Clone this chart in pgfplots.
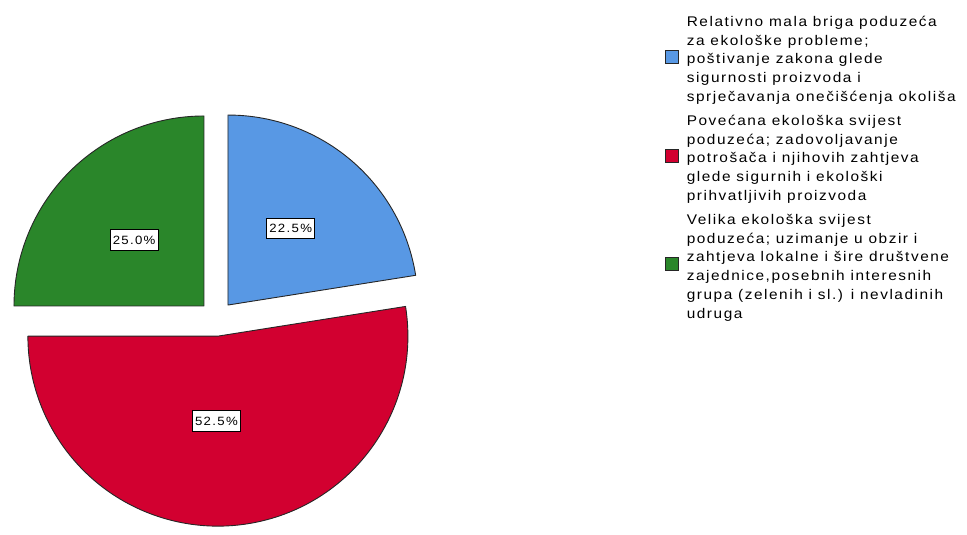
\documentclass[border=0pt]{standalone}
\usepackage{fontspec}
\setmainfont{Liberation Sans}[FakeStretch=1.1, LetterSpace=11]
\usepackage{pgfplots}
\usepackage{pgfplotstable}
\pgfplotsset{compat=1.18}

\definecolor{sliceblue}{RGB}{88,152,228}
\definecolor{slicered}{RGB}{210,0,48}
\definecolor{slicegreen}{RGB}{42,134,42}

% share in percent, label radius and label angle (relative to slice apex)
\pgfplotstableread{
pct  lr  la
22.5 99  50.7
52.5 85  -91
25.0 96  136.7
}\piedata

% start angle, end angle, colour, row
\newcommand\pieslice[4]{%
  \pgfmathsetmacro\midang{(#1+#2)/2}%
  \pgfmathsetmacro\ox{216.5+17.7*cos(\midang)}%
  \pgfmathsetmacro\oy{211.5+17.7*sin(\midang)}%
  \filldraw[fill=#3, draw=black!85, line width=0.9pt, line join=round]
    (axis cs:\ox,\oy) -- ++(#1:190pt) arc[start angle=#1, end angle=#2, radius=190pt] -- cycle;
  \pgfplotstablegetelem{#4}{lr}\of\piedata \let\labr\pgfplotsretval
  \pgfplotstablegetelem{#4}{la}\of\piedata \let\laba\pgfplotsretval
  \pgfplotstablegetelem{#4}{pct}\of\piedata \let\labp\pgfplotsretval
  \pgfmathsetmacro\lx{\ox+\labr*cos(\laba)}%
  \pgfmathsetmacro\ly{\oy+\labr*sin(\laba)}%
  \node[draw=black, fill=white, line width=0.8pt, inner xsep=2.5pt, inner ysep=6pt,
        font=\fontsize{12}{14}\selectfont]
    at (axis cs:\lx,\ly)
    {\pgfmathprintnumber[fixed,fixed zerofill,precision=1,assume math mode=true]{\labp}\%};
}

\begin{document}
\begin{tikzpicture}[font=\fontsize{14}{18.8}\selectfont]
\begin{axis}[
    x=1pt, y=1pt,
    xmin=0, xmax=967, ymin=0, ymax=530,
    hide axis, clip=false,
    legend cell align=left,
    legend image code/.code={
        \draw[#1, line width=0.8pt] (0pt,-3.3pt) rectangle (13pt,9.7pt);
        \path (21pt,0pt);
    },
    legend style={at={(axis cs:662,519)}, anchor=north west, draw=none, fill=none,
        font=\fontsize{14}{18.8}\selectfont, row sep=5pt,
        nodes={inner sep=0pt, text depth=}},
]
\path (rel axis cs:0,0) rectangle (rel axis cs:1,1);
\addlegendimage{fill=sliceblue, draw=black!85}
\addlegendentry{\begin{tabular}{@{}l@{}}Relativno mala briga poduzeća\\za ekološke probleme;\\poštivanje zakona glede\\sigurnosti proizvoda i\\sprječavanja onečišćenja okoliša\end{tabular}}
\addlegendimage{fill=slicered, draw=black!85}
\addlegendentry{\begin{tabular}{@{}l@{}}Povećana ekološka svijest\\poduzeća; zadovoljavanje\\potrošača i njihovih zahtjeva\\glede sigurnih i ekološki\\prihvatljivih proizvoda\end{tabular}}
\addlegendimage{fill=slicegreen, draw=black!85}
\addlegendentry{\begin{tabular}{@{}l@{}}Velika ekološka svijest\\poduzeća; uzimanje u obzir i\\zahtjeva lokalne i šire društvene\\zajednice,posebnih interesnih\\grupa (zelenih i sl.) i nevladinih\\udruga\end{tabular}}
\pgfplotsextra{
  \pgfplotstablegetelem{0}{pct}\of\piedata \pgfmathsetmacro\pA{\pgfplotsretval}
  \pgfplotstablegetelem{1}{pct}\of\piedata \pgfmathsetmacro\pB{\pgfplotsretval}
  \pgfplotstablegetelem{2}{pct}\of\piedata \pgfmathsetmacro\pC{\pgfplotsretval}
  \pgfmathsetmacro\aA{90}
  \pgfmathsetmacro\aB{90-3.6*\pA}
  \pgfmathsetmacro\aC{\aB-3.6*\pB}
  \pgfmathsetmacro\aD{\aC-3.6*\pC}
  \pieslice{\aA}{\aB}{sliceblue}{0}
  \pieslice{\aB}{\aC}{slicered}{1}
  \pieslice{\aC}{\aD}{slicegreen}{2}
}
\end{axis}
\end{tikzpicture}
\end{document}
